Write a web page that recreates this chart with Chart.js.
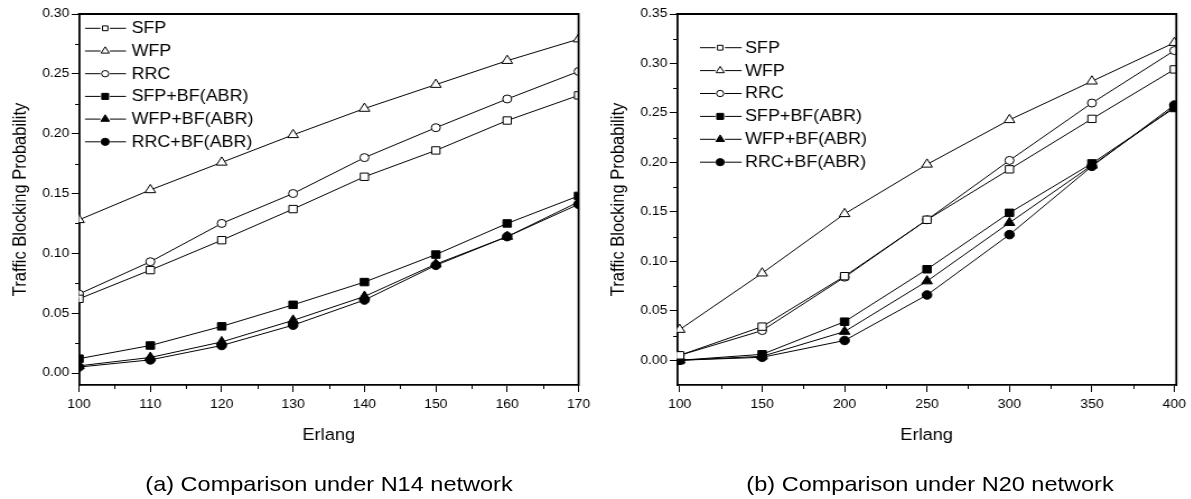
<!DOCTYPE html>
<html><head><meta charset="utf-8">
<script src="https://cdn.jsdelivr.net/npm/chart.js@4/dist/chart.umd.min.js"></script>
<style>
html,body{margin:0;padding:0;background:#fff;overflow:hidden;width:1191px;height:499px;}
#wrap{position:absolute;left:0;top:0;width:1064px;height:499px;transform:scaleX(1.12);transform-origin:0 0;}
canvas{position:absolute;top:0;}
.cap{position:absolute;top:473px;font-family:"Liberation Sans",Arial,sans-serif;font-size:21px;line-height:21px;color:#000;white-space:nowrap;transform:translateX(-50%);}
</style></head>
<body>
<div id="wrap">
<canvas id="c1" width="532" height="450" style="left:0px"></canvas>
<canvas id="c2" width="532" height="450" style="left:532px"></canvas>
<div class="cap" style="left:293.75px">(a) Comparison under N14 network</div>
<div class="cap" style="left:830.4px">(b) Comparison under N20 network</div>
</div>
<script>
// ---- data ----
const seriesNames = ['SFP','WFP','RRC','SFP+BF(ABR)','WFP+BF(ABR)','RRC+BF(ABR)'];

const xLeft = [100,110,120,130,140,150,160,170];
const leftSFP   = [0.062,0.086,0.111,0.137,0.164,0.186,0.211,0.232];
const leftWFP   = [0.128,0.153,0.176,0.199,0.221,0.241,0.261,0.279];
const leftRRC   = [0.066,0.093,0.125,0.150,0.180,0.205,0.229,0.252];
const leftSFPBF = [0.012,0.023,0.039,0.057,0.076,0.099,0.125,0.148];
const leftWFPBF = [0.006,0.013,0.026,0.044,0.064,0.091,0.114,0.143];
const leftRRCBF = [0.005,0.011,0.023,0.040,0.061,0.090,0.114,0.141];

const xRight = [100,150,200,250,300,350,400];
const rightSFP   = [0.005,0.034,0.085,0.142,0.193,0.244,0.294];
const rightWFP   = [0.031,0.088,0.148,0.198,0.243,0.282,0.321];
const rightRRC   = [0.005,0.030,0.084,0.142,0.202,0.260,0.313];
const rightSFPBF = [0.000,0.006,0.039,0.092,0.149,0.199,0.255];
const rightWFPBF = [0.000,0.004,0.029,0.080,0.139,0.197,0.256];
const rightRRCBF = [0.000,0.003,0.020,0.066,0.127,0.196,0.258];

const leftXTicks  = [100,110,120,130,140,150,160,170];
const leftXMinor  = [105,115,125,135,145,155,165];
const leftYTicks  = [0.00,0.05,0.10,0.15,0.20,0.25,0.30];
const leftYMinor  = [0.025,0.075,0.125,0.175,0.225,0.275];
const rightXTicks = [100,150,200,250,300,350,400];
const rightXMinor = [125,175,225,275,325,375];
const rightYTicks = [0.00,0.05,0.10,0.15,0.20,0.25,0.30,0.35];
const rightYMinor = [0.025,0.075,0.125,0.175,0.225,0.275,0.325];

// ---- styles ----
const FONT = '"Liberation Sans", Arial, sans-serif';
Chart.defaults.font.family = FONT;
Chart.defaults.color = '#000';

const markerStyles = [
  {pointStyle:'rect', radius:5.2, fill:'#fff', leg:3.4},
  {pointStyle:'triangle', radius:5.5, fill:'#fff', leg:4.2},
  {pointStyle:'circle', radius:4.0, fill:'#fff', leg:3.2},
  {pointStyle:'rect', radius:5.3, fill:'#000', leg:4.3},
  {pointStyle:'triangle', radius:5.5, fill:'#000', leg:4.4},
  {pointStyle:'circle', radius:4.3, fill:'#000', leg:3.6}
];

function makeDatasets(xs, arrays){
  return arrays.map((vals,i)=>({
    label: seriesNames[i],
    data: xs.map((x,j)=>({x:x, y:vals[j]})),
    borderColor:'#000', borderWidth:1, tension:0, fill:false,
    pointStyle: markerStyles[i].pointStyle,
    pointRadius: markerStyles[i].radius,
    pointBackgroundColor: markerStyles[i].fill,
    pointBorderColor:'#000', pointBorderWidth:1
  }));
}

const framePlugin = {
  id:'frame',
  afterDraw(chart, args, o){
    const {ctx, chartArea:{left,right,top,bottom}, scales:{x,y}} = chart;
    ctx.save();
    ctx.strokeStyle='#000';
    ctx.lineWidth=1.8;
    ctx.beginPath();
    ctx.moveTo(left-0.9, top); ctx.lineTo(right, top); ctx.lineTo(right, bottom+0.9);
    ctx.stroke();
    ctx.lineWidth=1;
    ctx.beginPath();
    o.xMinor.forEach(v=>{const px=Math.round(x.getPixelForValue(v))+0.5; ctx.moveTo(px,bottom); ctx.lineTo(px,bottom+4);});
    o.yMinor.forEach(v=>{const py=Math.round(y.getPixelForValue(v))+0.5; ctx.moveTo(left,py); ctx.lineTo(left-3.5,py);});
    ctx.stroke();
    // legend
    ctx.font = '16px ' + FONT;
    ctx.textBaseline='middle';
    ctx.textAlign='left';
    const gap = 4.2;
    chart.data.datasets.forEach((ds,i)=>{
      const yy = o.legY0 + i*o.legDy;
      ctx.strokeStyle='#000'; ctx.lineWidth=1;
      ctx.beginPath();
      ctx.moveTo(o.legX0, yy); ctx.lineTo(o.legXm-gap, yy);
      ctx.moveTo(o.legXm+gap, yy); ctx.lineTo(o.legX1, yy);
      ctx.stroke();
      ctx.fillStyle = ds.pointBackgroundColor; ctx.strokeStyle='#000'; ctx.lineWidth=1;
      Chart.helpers.drawPoint(ctx, {pointStyle: ds.pointStyle, radius: markerStyles[i].leg, borderWidth:1, rotation:0}, o.legXm, yy);
      ctx.fillStyle='#000';
      ctx.fillText(ds.label, o.legXt, yy+0.5);
    });
    ctx.restore();
  }
};

function makeChart(id, xs, arrays, cfg){
  return new Chart(document.getElementById(id), {
    type:'line',
    data:{datasets: makeDatasets(xs, arrays)},
    options:{
      responsive:false, animation:false, maintainAspectRatio:false,
      layout:{padding:{left:0, top:14, right:cfg.padRight, bottom:0}},
      plugins:{legend:{display:false}, tooltip:{enabled:false}, frame:cfg.frame},
      scales:{
        x:{
          type:'linear', min:cfg.xMin, max:cfg.xMax,
          afterBuildTicks: s=>{ s.ticks = cfg.xTicks.map(v=>({value:v})); },
          afterFit: s=>{ s.height = 65; },
          ticks:{autoSkip:false, maxRotation:0, padding:5, font:{size:12.5}, color:'#000', callback:v=>String(v)},
          grid:{display:true, drawOnChartArea:false, drawTicks:true, tickLength:7, color:'#000', tickWidth:1},
          border:{display:true, color:'#000', width:1.8},
          title:{display:true, text:'Erlang', font:{size:16.3}, color:'#000', padding:{top:0,bottom:5}}
        },
        y:{
          type:'linear', min:cfg.yMin, max:cfg.yMax,
          afterBuildTicks: s=>{ s.ticks = cfg.yTicks.map(v=>({value:v})); },
          afterFit: s=>{ s.width = cfg.yWidth; },
          ticks:{autoSkip:false, padding:2, font:{size:12.5}, color:'#000', callback:v=>Number(v).toFixed(2)},
          grid:{display:true, drawOnChartArea:false, drawTicks:true, tickLength:6.5, color:'#000', tickWidth:1},
          border:{display:true, color:'#000', width:1.8},
          title:{display:true, text:'Traffic Blocking Probability', font:{size:16.5}, color:'#000', padding:{top:cfg.titlePad,bottom:0}}
        }
      }
    },
    plugins:[framePlugin]
  });
}

makeChart('c1', xLeft, [leftSFP,leftWFP,leftRRC,leftSFPBF,leftWFPBF,leftRRCBF], {
  xMin:100, xMax:170, yMin:-0.01, yMax:0.30, xTicks:leftXTicks, yTicks:leftYTicks,
  yWidth:70.5, padRight:13.25, titlePad:8.3,
  frame:{xMinor:leftXMinor, yMinor:leftYMinor, legX0:75.9, legX1:112.5, legXm:93.9, legXt:117.4, legY0:28.3, legDy:22.7}
});
makeChart('c2', xRight, [rightSFP,rightWFP,rightRRC,rightSFPBF,rightWFPBF,rightRRCBF], {
  xMin:98.4, xMax:401.2, yMin:-0.025, yMax:0.35, xTicks:rightXTicks, yTicks:rightYTicks,
  yWidth:72.5, padRight:12.2, titlePad:10.6,
  frame:{xMinor:rightXMinor, yMinor:rightYMinor, legX0:93, legX1:130.2, legXm:111, legXt:133.2, legY0:47.7, legDy:22.9}
});
</script>
</body></html>
